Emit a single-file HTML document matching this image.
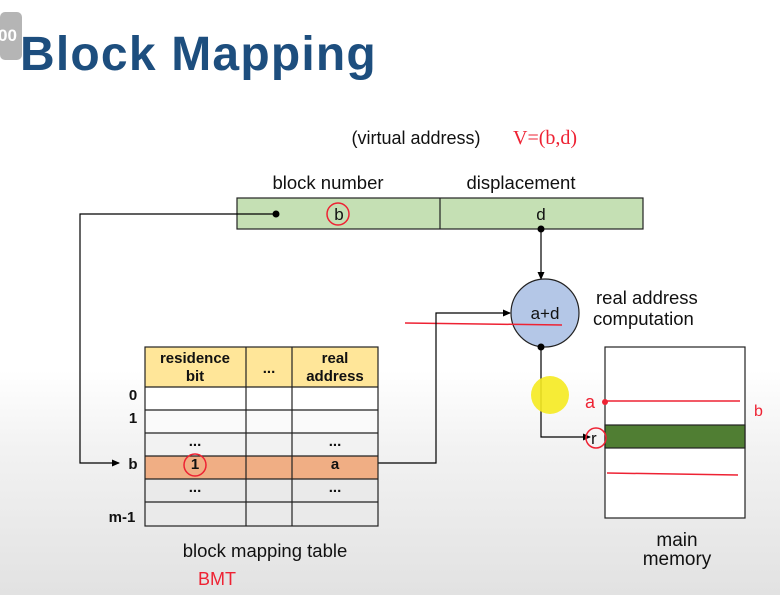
<!DOCTYPE html>
<html><head><meta charset="utf-8"><style>
html,body{margin:0;padding:0;width:780px;height:595px;overflow:hidden}
body{background:linear-gradient(#fff 0px,#fff 370px,#f2f2f2 450px,#e2e2e2 595px)}
svg{position:absolute;left:0;top:0}
text{font-family:"Liberation Sans",sans-serif;fill:#111}
</style></head><body>
<svg width="780" height="595" viewBox="0 0 780 595">
<defs><marker id="ar" markerWidth="8" markerHeight="8" refX="7" refY="4" orient="auto" markerUnits="userSpaceOnUse"><path d="M0,0.5 L8,4 L0,7.5z" fill="#000"/></marker></defs>
<rect x="0" y="12" width="22" height="48" rx="5" fill="#b5b5b5"/>
<text x="-2" y="41" font-size="17" font-weight="bold" style="fill:#fff">00</text>
<text x="20" y="70" font-size="48" font-weight="bold" letter-spacing="1.2" style="fill:#1d4e7e">Block Mapping</text>
<text x="416" y="144" font-size="18" text-anchor="middle">(virtual address)</text>
<text x="513" y="144" font-size="20" style="fill:#e23;font-family:'Liberation Serif',serif">V=(b,d)</text>
<text x="328" y="189" font-size="18.5" text-anchor="middle">block number</text>
<text x="521" y="189" font-size="18.5" text-anchor="middle">displacement</text>
<rect x="237" y="198" width="406" height="31" fill="#c5e0b4" stroke="#222" stroke-width="1.2"/>
<line x1="440" y1="198" x2="440" y2="229" stroke="#222" stroke-width="1.2"/>
<text x="339" y="220" font-size="17" text-anchor="middle">b</text>
<circle cx="338" cy="214" r="11" fill="none" stroke="#e23" stroke-width="1.5"/>
<text x="541" y="220" font-size="17" text-anchor="middle">d</text>
<circle cx="276" cy="214" r="3.5" fill="#000"/>
<polyline points="276,214 80,214 80,463 119,463" fill="none" stroke="#000" stroke-width="1.2" marker-end="url(#ar)"/>
<circle cx="541" cy="229" r="3.5" fill="#000"/>
<line x1="541" y1="229" x2="541" y2="279" stroke="#000" stroke-width="1.2" marker-end="url(#ar)"/>
<circle cx="545" cy="313" r="34" fill="#b4c7e7" stroke="#222" stroke-width="1.2"/>
<text x="545" y="319" font-size="17" text-anchor="middle">a+d</text>
<line x1="405" y1="323" x2="562" y2="325" stroke="#e23" stroke-width="1.5"/>
<text x="596" y="304" font-size="18.5">real address</text>
<text x="593" y="325" font-size="18.5">computation</text>
<polyline points="378,463 436,463 436,313 510,313" fill="none" stroke="#000" stroke-width="1.2" marker-end="url(#ar)"/>
<circle cx="541" cy="347" r="3.5" fill="#000"/>
<polyline points="541,347 541,437 590,437" fill="none" stroke="#000" stroke-width="1.2" marker-end="url(#ar)"/>
<circle cx="550" cy="395" r="19" fill="#f5ea20" opacity="0.9"/>
<rect x="605" y="347" width="140" height="171" fill="#fff" stroke="#222" stroke-width="1.2"/>
<rect x="605" y="425" width="140" height="23" fill="#507e33" stroke="#222" stroke-width="1.2"/>
<text x="591" y="444" font-size="17">r</text>
<circle cx="596" cy="438" r="10" fill="none" stroke="#e23" stroke-width="1.5"/>
<line x1="605" y1="401" x2="740" y2="401" stroke="#e23" stroke-width="1.5"/>
<line x1="607" y1="473" x2="738" y2="475" stroke="#e23" stroke-width="1.5"/>
<circle cx="605" cy="402" r="3" fill="#e23"/>
<text x="585" y="408" font-size="18" style="fill:#e23">a</text>
<text x="754" y="416" font-size="16" style="fill:#e23">b</text>
<text x="677" y="546" font-size="19" text-anchor="middle">main</text>
<text x="677" y="565" font-size="19" text-anchor="middle">memory</text>
<rect x="145" y="347" width="233" height="40" fill="#ffe699"/>
<rect x="145" y="387" width="233" height="23" fill="#fff"/>
<rect x="145" y="410" width="233" height="23" fill="#fafafa"/>
<rect x="145" y="433" width="233" height="23" fill="#f2f2f2"/>
<rect x="145" y="456" width="233" height="23" fill="#f0ae84"/>
<rect x="145" y="479" width="233" height="47" fill="#eaeaea"/>
<g stroke="#222" stroke-width="1.2" fill="none">
<rect x="145" y="347" width="233" height="179"/>
<line x1="246" y1="347" x2="246" y2="526"/><line x1="292" y1="347" x2="292" y2="526"/>
<line x1="145" y1="387" x2="378" y2="387"/><line x1="145" y1="410" x2="378" y2="410"/>
<line x1="145" y1="433" x2="378" y2="433"/><line x1="145" y1="456" x2="378" y2="456"/>
<line x1="145" y1="479" x2="378" y2="479"/><line x1="145" y1="502" x2="378" y2="502"/>
</g>
<g font-size="15" font-weight="bold" text-anchor="middle">
<text x="195" y="363">residence</text><text x="195" y="381">bit</text>
<text x="269" y="373">...</text>
<text x="335" y="363">real</text><text x="335" y="381">address</text>
<text x="195" y="446">...</text><text x="335" y="446">...</text>
<text x="195" y="469">1</text><text x="335" y="469">a</text>
<text x="195" y="492">...</text><text x="335" y="492">...</text>
<text x="133" y="400">0</text><text x="133" y="423">1</text>
<text x="133" y="469">b</text><text x="122" y="522">m-1</text>
</g>
<circle cx="195" cy="465" r="11" fill="none" stroke="#e23" stroke-width="1.5"/>
<text x="265" y="557" font-size="18.5" text-anchor="middle">block mapping table</text>
<text x="198" y="585" font-size="18" style="fill:#e23">BMT</text>
</svg>
</body></html>
